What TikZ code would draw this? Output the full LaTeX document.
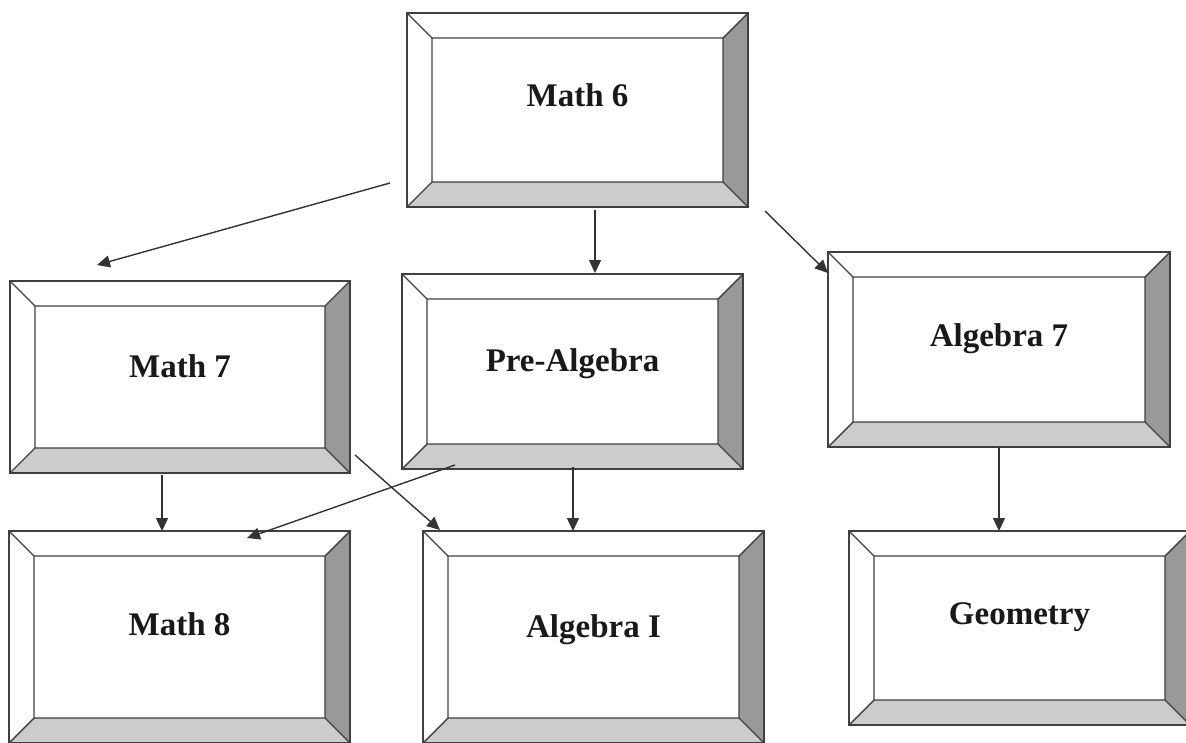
\documentclass[tikz,border=0pt]{standalone}
\usepackage{fontspec}
\setmainfont{Liberation Serif}
\usetikzlibrary{arrows.meta}
\definecolor{bvlight}{HTML}{CCCCCC}
\definecolor{bvdark}{HTML}{999999}
\definecolor{edgecol}{HTML}{404040}
\tikzset{
  bevelbox/.style n args={2}{rectangle, draw=edgecol, line width=1.5pt, fill=white,
    inner sep=0pt, minimum width=#1, minimum height=#2,
    path picture={
      \coordinate (pNW) at (path picture bounding box.north west);
      \coordinate (pNE) at (path picture bounding box.north east);
      \coordinate (pSE) at (path picture bounding box.south east);
      \coordinate (pSW) at (path picture bounding box.south west);
      \coordinate (iNW) at ([shift={(25pt,-25pt)}]pNW);
      \coordinate (iNE) at ([shift={(-25pt,-25pt)}]pNE);
      \coordinate (iSE) at ([shift={(-25pt,25pt)}]pSE);
      \coordinate (iSW) at ([shift={(25pt,25pt)}]pSW);
      \fill[bvlight] (pSW) -- (pSE) -- (iSE) -- (iSW) -- cycle;
      \fill[bvdark] (pSE) -- (pNE) -- (iNE) -- (iSE) -- cycle;
      \draw[edgecol, line width=1.4pt, line join=round] (iNW) rectangle (iSE)
        (pNW) -- (iNW) (pNE) -- (iNE) (pSE) -- (iSE) (pSW) -- (iSW);
    }},
  lbl/.style={font=\bfseries\fontsize{33}{36}\selectfont, inner sep=0pt, anchor=base, text=black!90},
  arr/.style={draw=black!80, line width=1.4pt, -{Triangle[length=13pt,width=12pt]}},
}
\begin{document}
\begin{tikzpicture}[x=1pt,y=-1pt]
\useasboundingbox (0,0) rectangle (1186,742);
\clip (0,0) rectangle (1186,742);

% boxes
\node[bevelbox={341pt}{194pt}] (m6)   at (577.5,110) {};
\node[bevelbox={340pt}{192pt}] (m7)   at (180,377) {};
\node[bevelbox={341pt}{195pt}] (pre)  at (572.5,371.5) {};
\node[bevelbox={342pt}{195pt}] (a7)   at (999,349.5) {};
\node[bevelbox={341pt}{212pt}] (m8)   at (179.5,637) {};
\node[bevelbox={341pt}{212pt}] (alg1) at (593.5,637) {};
\node[bevelbox={341pt}{194pt}] (geo)  at (1019.5,628) {};

% labels
\node[lbl] (t6)   at ([yshift=4pt]m6.center)   {Math 6};
\node[lbl] (t7)   at ([yshift=0pt]m7.center)   {Math 7};
\node[lbl] (tpre) at ([yshift=0pt]pre.center)  {Pre-Algebra};
\node[lbl] (ta7)  at ([yshift=3.5pt]a7.center) {Algebra 7};
\node[lbl] (t8)   at ([yshift=1.5pt]m8.center) {Math 8};
\node[lbl] (tal1) at ([yshift=0pt]alg1.center) {Algebra I};
\node[lbl] (tgeo) at ([yshift=4pt]geo.center)  {Geometry};

% connector end points
\coordinate (m6a) at (390,183);  \coordinate (m7in) at (97,265);
\coordinate (m6b) at (595,210);  \coordinate (prein) at (595,273);
\coordinate (m6c) at (765,211);  \coordinate (a7in) at (828,273);
\coordinate (m7a) at (162,475);  \coordinate (m8in1) at (162,531);
\coordinate (prea) at (455,465); \coordinate (m8in2) at (247,538);
\coordinate (m7b) at (355,455);  \coordinate (alin1) at (440,530);
\coordinate (preb) at (573,467); \coordinate (alin2) at (573,531);
\coordinate (a7a) at (999,447);  \coordinate (geoin) at (999,531);

\draw[arr] (m6a) -- (m7in);
\draw[arr] (m6b) -- (prein);
\draw[arr] (m6c) -- (a7in);
\draw[arr] (m7a) -- (m8in1);
\draw[arr] (prea) -- (m8in2);
\draw[arr] (m7b) -- (alin1);
\draw[arr] (preb) -- (alin2);
\draw[arr] (a7a) -- (geoin);
\end{tikzpicture}
\end{document}
